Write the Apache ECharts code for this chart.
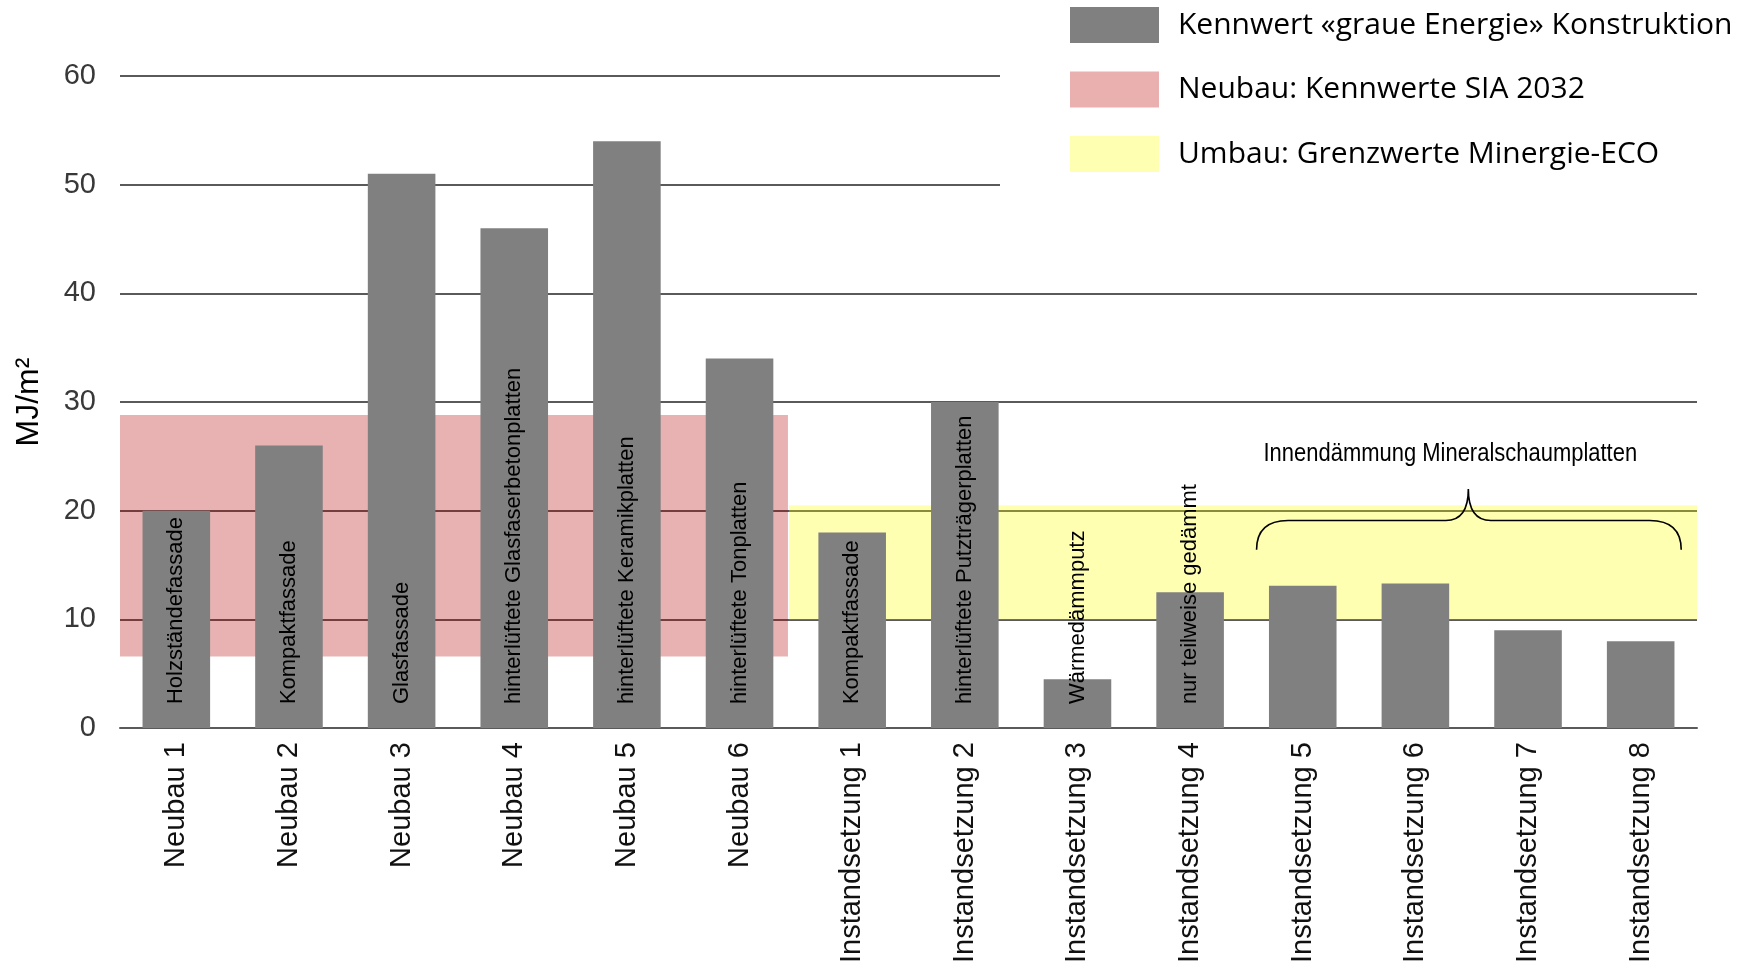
<!DOCTYPE html>
<html>
<head>
<meta charset="utf-8">
<script src="https://cdn.jsdelivr.net/npm/echarts@6/dist/echarts.min.js"></script>
<style>
  html, body { margin: 0; padding: 0; background: #fff; }
  #chart { width: 1756px; height: 966px; }
</style>
</head>
<body>
<div id="chart"></div>
<script>
// Kategorien und Werte (MJ/m2)
const categories = [
  'Neubau 1', 'Neubau 2', 'Neubau 3', 'Neubau 4', 'Neubau 5', 'Neubau 6',
  'Instandsetzung 1', 'Instandsetzung 2', 'Instandsetzung 3', 'Instandsetzung 4',
  'Instandsetzung 5', 'Instandsetzung 6', 'Instandsetzung 7', 'Instandsetzung 8'
]
const values = [20, 26, 51, 46, 54, 34, 18, 30, 4.5, 12.5, 13.1, 13.3, 9, 8]
const descriptions = [
  'Holzständefassade', 'Kompaktfassade', 'Glasfassade',
  'hinterlüftete Glasfaserbetonplatten', 'hinterlüftete Keramikplatten',
  'hinterlüftete Tonplatten', 'Kompaktfassade', 'hinterlüftete Putzträgerplatten',
  'Wärmedämmputz', 'nur teilweise gedämmt', '', '', '', ''
]
const seriesNames = [
  'Kennwert «graue Energie» Konstruktion',
  'Neubau: Kennwerte SIA 2032',
  'Umbau: Grenzwerte Minergie-ECO'
]
// Bereiche: [x von, x bis, y von, y bis] (x in Kategorie-Einheiten)
const neubauRange = [-0.03, 5.93, 6.6, 28.8]
const umbauRange = [5.94, 14.03, 10, 20.5]
const braceNote = 'Innendämmung Mineralschaumplatten'

const chart = echarts.init(document.getElementById('chart'))

const bandSeries = (name, legendColor, fill, r) => ({
  name: name,
  type: 'bar',
  xAxisIndex: 1,
  data: [],
  z: 5,
  clip: false,
  itemStyle: { color: legendColor },
  markArea: {
    silent: true,
    label: { show: false },
    itemStyle: { color: fill },
    data: [[{ xAxis: r[0], yAxis: r[2] }, { xAxis: r[1], yAxis: r[3] }]],
  },
})

chart.setOption({
  animation: false,
  grid: { left: 120, right: 59, top: 76, bottom: 235 },
  legend: {
    orient: 'vertical',
    left: 1000,
    top: 0,
    padding: [7, 80, 22, 70],
    backgroundColor: '#ffffff',
    icon: 'rect',
    itemWidth: 89,
    itemHeight: 36,
    itemGap: 28.5,
    selectedMode: false,
    data: seriesNames,
    textStyle: {
      fontFamily: 'Open Sans',
      fontSize: 30,
      color: '#000',
      padding: [0, 0, 0, 14],
    },
  },
  xAxis: [
    {
      type: 'category',
      data: categories,
      axisLine: { show: true, lineStyle: { color: '#5a5a5a', width: 2 } },
      axisTick: { show: false },
      axisLabel: {
        interval: 0,
        rotate: 90,
        margin: 14,
        fontFamily: 'Liberation Sans',
        fontSize: 29,
        color: '#111',
      },
    },
    { type: 'value', min: 0, max: 14, show: false },
  ],
  yAxis: {
    type: 'value',
    min: 0,
    max: 60,
    interval: 10,
    name: 'MJ/m²',
    nameLocation: 'middle',
    nameRotate: 90,
    nameGap: 75,
    nameTextStyle: { fontFamily: 'Liberation Sans', fontSize: 32, color: '#000' },
    axisLine: { show: false },
    axisTick: { show: false },
    axisLabel: { margin: 24, fontFamily: 'Liberation Sans', fontSize: 29, color: '#383838' },
    splitLine: { lineStyle: { color: '#5a5a5a', width: 2 } },
  },
  series: [
    {
      name: seriesNames[0],
      type: 'bar',
      data: values,
      barWidth: '60%',
      itemStyle: { color: '#808080' },
      label: {
        show: true,
        position: 'insideBottom',
        rotate: 90,
        align: 'left',
        verticalAlign: 'middle',
        distance: 24,
        fontFamily: 'Liberation Sans',
        fontSize: 22,
        color: '#000',
        formatter: (p) => descriptions[p.dataIndex],
      },
    },
    bandSeries(seriesNames[1], '#eab0b0', 'rgba(178,0,0,0.3)', neubauRange),
    bandSeries(seriesNames[2], '#ffffb2', 'rgba(255,255,0,0.3)', umbauRange),
    {
      // geschweifte Klammer über Instandsetzung 5-8
      type: 'custom',
      xAxisIndex: 1,
      silent: true,
      clip: false,
      z: 6,
      data: [[0]],
      renderItem: (params, api) => {
        const p = (x, y) => api.coord([x, y])
        const a = p(10.09, 16.4), b = p(10.09, 19.1), c = p(10.37, 19.1)
        const d = p(11.77, 19.1), e = p(11.97, 19.1), tip = p(11.97, 22)
        const f = p(12.17, 19.1), g = p(13.58, 19.1), h = p(13.86, 19.1), k = p(13.86, 16.4)
        const path = `M${a[0]} ${a[1]} Q${b[0]} ${b[1]} ${c[0]} ${c[1]} L${d[0]} ${d[1]} ` +
          `Q${e[0]} ${e[1]} ${tip[0]} ${tip[1]} Q${e[0]} ${e[1]} ${f[0]} ${f[1]} ` +
          `L${g[0]} ${g[1]} Q${h[0]} ${h[1]} ${k[0]} ${k[1]}`
        const t = p(11.81, 25.2)
        return {
          type: 'group',
          children: [
            { type: 'path', shape: { pathData: path }, style: { stroke: '#000', fill: null, lineWidth: 1.6 } },
            {
              type: 'text',
              x: t[0], y: t[1],
              scaleX: 0.845,
              style: {
                text: braceNote,
                fontFamily: 'Liberation Sans',
                fontSize: 26,
                fill: '#000',
                align: 'center',
                verticalAlign: 'middle',
              },
            },
          ],
        }
      },
    },
  ],
})
</script>
</body>
</html>
